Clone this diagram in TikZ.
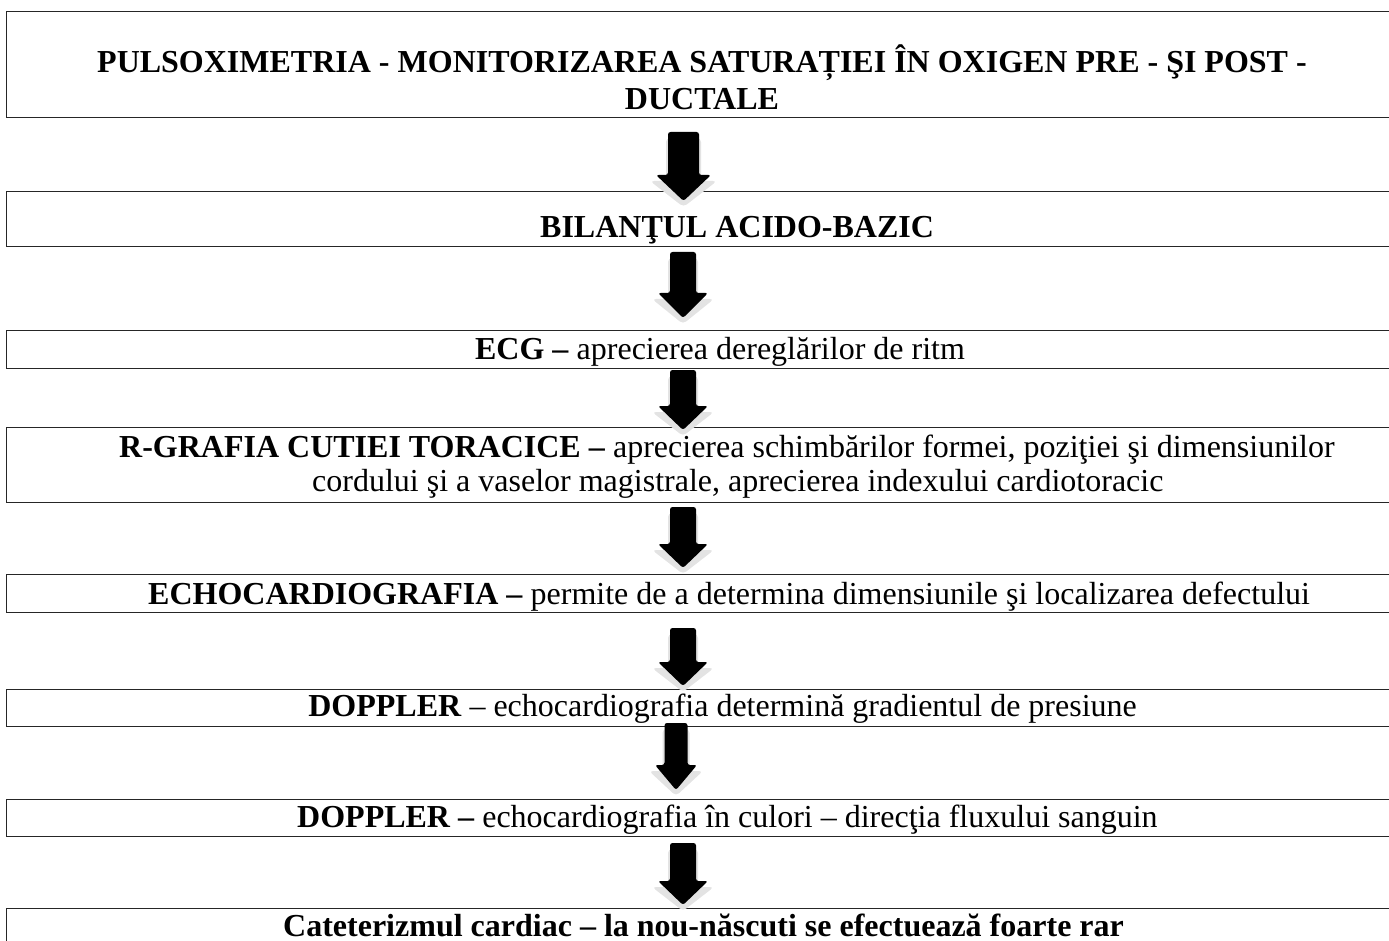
\documentclass[tikz,border=0pt]{standalone}
\usepackage{fontspec}
\setmainfont{Liberation Serif}
\begin{document}
\begin{tikzpicture}[x=1pt, y=-1pt]
\tikzset{
  frame/.style={draw=black!85, line width=1.3pt, inner sep=0pt,
                anchor=north west, minimum width=1430},
  txt/.style={inner sep=0pt, font=\fontsize{32}{37}\selectfont},
  arrowbody/.style={fill=black, rounded corners=2.5pt},
  arrowshade/.style={fill=black!11, rounded corners=4pt},
}
% #1 name, #2 centre x, #3 top, #4 tip, #5 half shaft, #6 half head, #7 head length
\newcommand\blockarrow[7]{%
  \coordinate (#1-top) at (#2,#3);
  \coordinate (#1-tip) at (#2,#4);
  \fill[arrowshade]
    ({#2-#5-2},{#3+6}) -- ({#2+#5+2},{#3+6}) -- ({#2+#5+2},{#4-#7+6})
    -- ({#2+#6+6},{#4-#7+6}) -- ({#2},{#4+6}) -- ({#2-#6-6},{#4-#7+6})
    -- ({#2-#5-2},{#4-#7+6}) -- cycle;
  \fill[arrowbody]
    ({#2-#5},#3) -- ({#2+#5},#3) -- ({#2+#5},{#4-#7})
    -- ({#2+#6},{#4-#7}) -- (#1-tip) -- ({#2-#6},{#4-#7})
    -- ({#2-#5},{#4-#7}) -- cycle;
}
\useasboundingbox (0,0) rectangle (1389,941);
\clip (0,0) rectangle (1389,941);

% frames
\node[frame, minimum height=106] (b1) at (6,11) {};
\node[frame, minimum height=55]  (b2) at (6,191) {};
\node[frame, minimum height=38]  (b3) at (6,330) {};
\node[frame, minimum height=75]  (b4) at (6,427) {};
\node[frame, minimum height=38]  (b5) at (6,574) {};
\node[frame, minimum height=37]  (b6) at (6,689) {};
\node[frame, minimum height=37]  (b7) at (6,799) {};
\node[frame, minimum height=60]  (b8) at (6,908) {};

% arrows between the frames
\blockarrow{a1}{683.5}{132}{201}{15.5}{27.5}{26}
\blockarrow{a2}{683}{252}{318}{13}{25}{25}
\blockarrow{a3}{683}{370}{430}{13}{25}{24}
\blockarrow{a4}{683}{507}{568}{13}{25}{24}
\blockarrow{a5}{683}{628}{686}{13}{25}{24}
\blockarrow{a6}{676}{723}{790}{11.5}{21}{25}
\blockarrow{a7}{683}{843}{905}{13}{25}{24}

% texts
\node[txt, anchor=base west] (t1a) at (97,73)
  {\textbf{PULSOXIMETRIA - MONITORIZAREA SATURAȚIEI ÎN OXIGEN PRE - ŞI POST -}};
\node[txt, anchor=base] (t1b) at (702,110) {\textbf{DUCTALE}};
\node[txt, anchor=base west] (t2) at (540,238) {\textbf{BILANŢUL ACIDO-BAZIC}};
\node[txt, anchor=base] (t3) at (720,359)
  {\textbf{ECG –} aprecierea dereglărilor de ritm};
\node[txt, anchor=base west] (t4a) at (119,457)
  {\textbf{R-GRAFIA CUTIEI TORACICE –} aprecierea schimbărilor formei, poziţiei şi dimensiunilor};
\node[txt, anchor=base west] (t4b) at (312,491)
  {cordului şi a vaselor magistrale, aprecierea indexului cardiotoracic};
\node[txt, anchor=base west] (t5) at (148,604)
  {\textbf{ECHOCARDIOGRAFIA –} permite de a determina dimensiunile şi localizarea defectului};
\node[txt, anchor=base east] (t6) at (1137,716)
  {\textbf{DOPPLER} – echocardiografia determină gradientul de presiune};
\node[txt, anchor=base west] (t7) at (297,827)
  {\textbf{DOPPLER –} echocardiografia în culori – direcţia fluxului sanguin};
\node[txt, anchor=base west] (t8) at (283,936)
  {\textbf{Cateterizmul cardiac – la nou-născuti se efectuează foarte rar}};
\end{tikzpicture}
\end{document}
